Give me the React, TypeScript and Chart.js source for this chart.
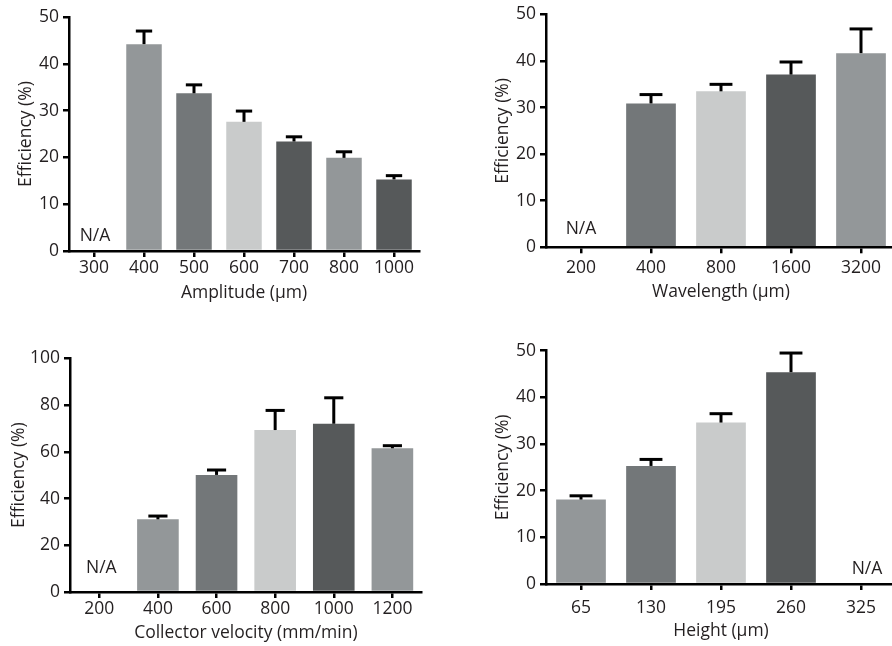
import React, { useEffect, useRef } from "react";
import { Chart, registerables } from "chart.js";

Chart.register(...registerables);

// ---- Data ----
const amplitudeLabels = ["300", "400", "500", "600", "700", "800", "1000"];
const amplitudeValues = [null, 44.2, 33.7, 27.6, 23.4, 19.9, 15.3];
const amplitudeErrors = [null, 2.8, 1.8, 2.3, 1.0, 1.3, 0.8];

const wavelengthLabels = ["200", "400", "800", "1600", "3200"];
const wavelengthValues = [null, 30.9, 33.5, 37.1, 41.7];
const wavelengthErrors = [null, 1.9, 1.5, 2.7, 5.2];

const velocityLabels = ["200", "400", "600", "800", "1000", "1200"];
const velocityValues = [null, 31.1, 50.1, 69.3, 72.0, 61.5];
const velocityErrors = [null, 1.4, 2.1, 8.4, 11.1, 1.1];

const heightLabels = ["65", "130", "195", "260", "325"];
const heightValues = [18.1, 25.3, 34.6, 45.4, null];
const heightErrors = [0.8, 1.4, 1.9, 4.1, null];

const yTitle = "Efficiency (%)";
const naText = "N/A";

// ---- Styles ----
const LIGHT = "#c9cbcb";
const MEDIUM = "#939799";
const MIDDARK = "#737779";
const DARK = "#56595a";
const TEXT = "#231f20";
const FONT = "'Open Sans', 'Noto Sans', sans-serif";
const TICK_SIZE = 17.5;
const TITLE_SIZE = 17.5;

type PanelCfg = {
  labels: string[];
  values: (number | null)[];
  errors: (number | null)[];
  colors: string[];
  xTitle: string;
  yMax: number;
  yStep: number;
  box: { x: number; y: number; w: number; h: number };
  yWidth: number;
  xHeight: number;
  padTop: number;
  padRight: number;
  xTickPad: number;
  xTitlePad: number;
  yTitlePad: number;
  naIndex: number;
  naDy: number;
  naDx: number;
};

const panels: PanelCfg[] = [
  {
    labels: amplitudeLabels,
    values: amplitudeValues,
    errors: amplitudeErrors,
    colors: [MEDIUM, MEDIUM, MIDDARK, LIGHT, DARK, MEDIUM, DARK],
    xTitle: "Amplitude (µm)",
    yMax: 50,
    yStep: 10,
    box: { x: 0, y: 0, w: 446, h: 310 },
    yWidth: 69,
    xHeight: 59,
    padTop: 17,
    padRight: 27,
    xTickPad: 0.8,
    xTitlePad: 6.8,
    yTitlePad: 15.5,
    naIndex: 0,
    naDy: 15,
    naDx: 1,
  },
  {
    labels: wavelengthLabels,
    values: wavelengthValues,
    errors: wavelengthErrors,
    colors: [MEDIUM, MIDDARK, LIGHT, DARK, MEDIUM],
    xTitle: "Wavelength (µm)",
    yMax: 50,
    yStep: 10,
    box: { x: 477, y: 0, w: 430, h: 310 },
    yWidth: 69,
    xHeight: 62.7,
    padTop: 13.3,
    padRight: 11,
    xTickPad: 4.5,
    xTitlePad: 7.5,
    yTitlePad: 15.5,
    naIndex: 0,
    naDy: 18,
    naDx: 0,
  },
  {
    labels: velocityLabels,
    values: velocityValues,
    errors: velocityErrors,
    colors: [MEDIUM, MEDIUM, MIDDARK, LIGHT, DARK, MEDIUM],
    xTitle: "Collector velocity (mm/min)",
    yMax: 100,
    yStep: 20,
    box: { x: 0, y: 330, w: 446, h: 316 },
    yWidth: 70,
    xHeight: 54,
    padTop: 28.3,
    padRight: 24.3,
    xTickPad: 0.2,
    xTitlePad: 2.5,
    yTitlePad: 8.5,
    naIndex: 0,
    naDy: 24,
    naDx: 2,
  },
  {
    labels: heightLabels,
    values: heightValues,
    errors: heightErrors,
    colors: [MEDIUM, MIDDARK, LIGHT, DARK, MEDIUM],
    xTitle: "Height (µm)",
    yMax: 50,
    yStep: 10,
    box: { x: 477, y: 330, w: 430, h: 316 },
    yWidth: 69,
    xHeight: 62,
    padTop: 20.7,
    padRight: 11,
    xTickPad: 7.8,
    xTitlePad: 4.8,
    yTitlePad: 15.5,
    naIndex: 4,
    naDy: 15,
    naDx: 6,
  },
];

function makeOverlayPlugin(cfg: PanelCfg) {
  return {
    id: "errorBarsAndNA",
    afterDatasetsDraw(chart: any) {
      const ctx = chart.ctx;
      const meta = chart.getDatasetMeta(0);
      const ys = chart.scales.y;
      const xs = chart.scales.x;
      ctx.save();
      ctx.strokeStyle = "#000";
      ctx.lineWidth = 3;
      ctx.lineCap = "butt";
      meta.data.forEach((bar: any, i: number) => {
        const v = cfg.values[i];
        const e = cfg.errors[i];
        if (v == null || e == null) return;
        const x = bar.x;
        const yBar = ys.getPixelForValue(v);
        const yTop = ys.getPixelForValue(v + e);
        const capW = bar.width * 0.46;
        ctx.beginPath();
        ctx.moveTo(x, yBar);
        ctx.lineTo(x, yTop);
        ctx.stroke();
        ctx.beginPath();
        ctx.moveTo(x - capW / 2, yTop);
        ctx.lineTo(x + capW / 2, yTop);
        ctx.stroke();
      });
      // N/A label
      const nx = xs.getPixelForValue(cfg.naIndex) + cfg.naDx;
      const ny = ys.getPixelForValue(0) - cfg.naDy;
      ctx.fillStyle = TEXT;
      ctx.font = `17.5px ${FONT}`;
      ctx.textAlign = "center";
      ctx.textBaseline = "middle";
      ctx.fillText(naText, nx, ny);
      ctx.restore();
    },
  };
}

function Panel({ cfg }: { cfg: PanelCfg }) {
  const ref = useRef<HTMLCanvasElement | null>(null);
  useEffect(() => {
    if (!ref.current) return;
    const chart = new Chart(ref.current, {
      type: "bar",
      data: {
        labels: cfg.labels,
        datasets: [
          {
            data: cfg.values as any,
            backgroundColor: cfg.colors,
            borderWidth: 0,
            categoryPercentage: 1,
            barPercentage: 0.71,
          },
        ],
      },
      options: {
        responsive: false,
        animation: false,
        maintainAspectRatio: false,
        layout: {
          padding: { left: 0, top: cfg.padTop, right: cfg.padRight, bottom: 0 },
        },
        plugins: {
          legend: { display: false },
          tooltip: { enabled: false },
        },
        scales: {
          x: {
            type: "category",
            offset: true,
            border: { color: "#000", width: 2.5 },
            grid: {
              offset: false,
              drawOnChartArea: false,
              drawTicks: true,
              tickLength: 6,
              color: "#000",
              lineWidth: 2.5,
            },
            ticks: {
              color: TEXT,
              font: { family: FONT, size: TICK_SIZE },
              padding: cfg.xTickPad,
              maxRotation: 0,
              autoSkip: false,
            },
            title: {
              display: true,
              text: cfg.xTitle,
              color: TEXT,
              font: { family: FONT, size: TITLE_SIZE },
              padding: { top: 0, bottom: cfg.xTitlePad },
            },
            afterFit: (scale: any) => {
              scale.height = cfg.xHeight;
            },
          },
          y: {
            min: 0,
            max: cfg.yMax,
            border: { color: "#000", width: 2.5 },
            grid: {
              drawOnChartArea: false,
              drawTicks: true,
              tickLength: 6,
              color: "#000",
              lineWidth: 2.5,
            },
            ticks: {
              stepSize: cfg.yStep,
              color: TEXT,
              font: { family: FONT, size: TICK_SIZE },
              padding: 4,
            },
            title: {
              display: true,
              text: yTitle,
              color: TEXT,
              font: { family: FONT, size: TITLE_SIZE },
              padding: { top: cfg.yTitlePad, bottom: 0 },
            },
            afterFit: (scale: any) => {
              scale.width = cfg.yWidth;
            },
          },
        },
      } as any,
      plugins: [makeOverlayPlugin(cfg)],
    });
    return () => chart.destroy();
  }, [cfg]);

  return (
    <canvas
      ref={ref}
      width={cfg.box.w}
      height={cfg.box.h}
      style={{
        position: "absolute",
        left: cfg.box.x,
        top: cfg.box.y,
        width: cfg.box.w,
        height: cfg.box.h,
      }}
    />
  );
}

export default function App() {
  return (
    <div
      style={{
        position: "fixed",
        left: 0,
        top: 0,
        width: 892,
        height: 646,
        overflow: "hidden",
        background: "#fff",
      }}
    >
      {panels.map((p, i) => (
        <Panel key={i} cfg={p} />
      ))}
    </div>
  );
}
